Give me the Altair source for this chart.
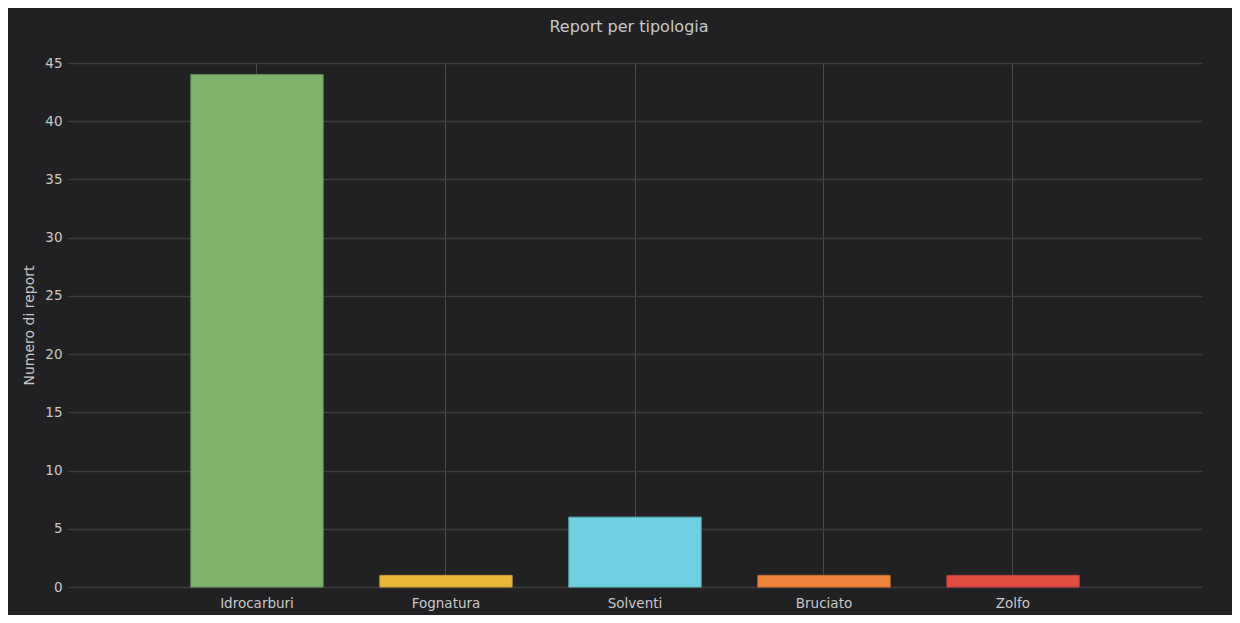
import altair as alt
import pandas as pd

categories = ["Idrocarburi", "Fognatura", "Solventi", "Bruciato", "Zolfo"]
values = [44, 1, 6, 1, 1]
fill_colors = ["#7EB26D", "#EAB839", "#6ED0E0", "#EF843C", "#E24D42"]
stroke_colors = ["#6A9A5B", "#C99E30", "#5CB4C3", "#CF7034", "#C2423A"]
y_ticks = [0, 5, 10, 15, 20, 25, 30, 35, 40, 45]

df = pd.DataFrame({"tipo": categories, "n": values})

label_color = "#c8c8c8"

chart = alt.Chart(df).mark_bar(strokeWidth=1).encode(
    x=alt.X(
        "tipo:N",
        sort=categories,
        scale=alt.Scale(paddingInner=0.3, paddingOuter=0.65),
        axis=alt.Axis(
            title=None, labelAngle=0, grid=True, gridColor="#4a4a4c", gridWidth=1,
            ticks=False, domain=False, labelPadding=9, bandPosition=0.5,
            labelColor=label_color, labelFontSize=13.5, labelFont="DejaVu Sans",
        ),
    ),
    y=alt.Y(
        "n:Q",
        scale=alt.Scale(domain=[0, 45], nice=False),
        axis=alt.Axis(
            values=y_ticks, title="Numero di report", gridColor="#3d3d3f", gridWidth=1.5,
            ticks=False, domain=False, labelPadding=6, labelColor=label_color,
            labelFontSize=13.5, labelFont="DejaVu Sans", titleColor=label_color,
            titleFontSize=14, titleFont="DejaVu Sans", titleFontWeight="normal",
            titlePadding=8,
        ),
    ),
    fill=alt.Fill("tipo:N", scale=alt.Scale(domain=categories, range=fill_colors), legend=None),
    stroke=alt.Stroke("tipo:N", scale=alt.Scale(domain=categories, range=stroke_colors), legend=None),
).properties(
    width=1134,
    height=524,
    title=alt.TitleParams(
        "Report per tipologia", color="#c8c8c8", fontSize=16, fontWeight="normal",
        font="DejaVu Sans", anchor="middle", frame="group", offset=21, dx=-6,
    ),
    autosize=alt.AutoSizeParams(type="none"),
    padding={"left": 60, "top": 55, "right": 30, "bottom": 28},
    background="#212124",
).configure_view(stroke=None)

chart.save("out.html", embed_options={"renderer": "svg", "actions": False})
